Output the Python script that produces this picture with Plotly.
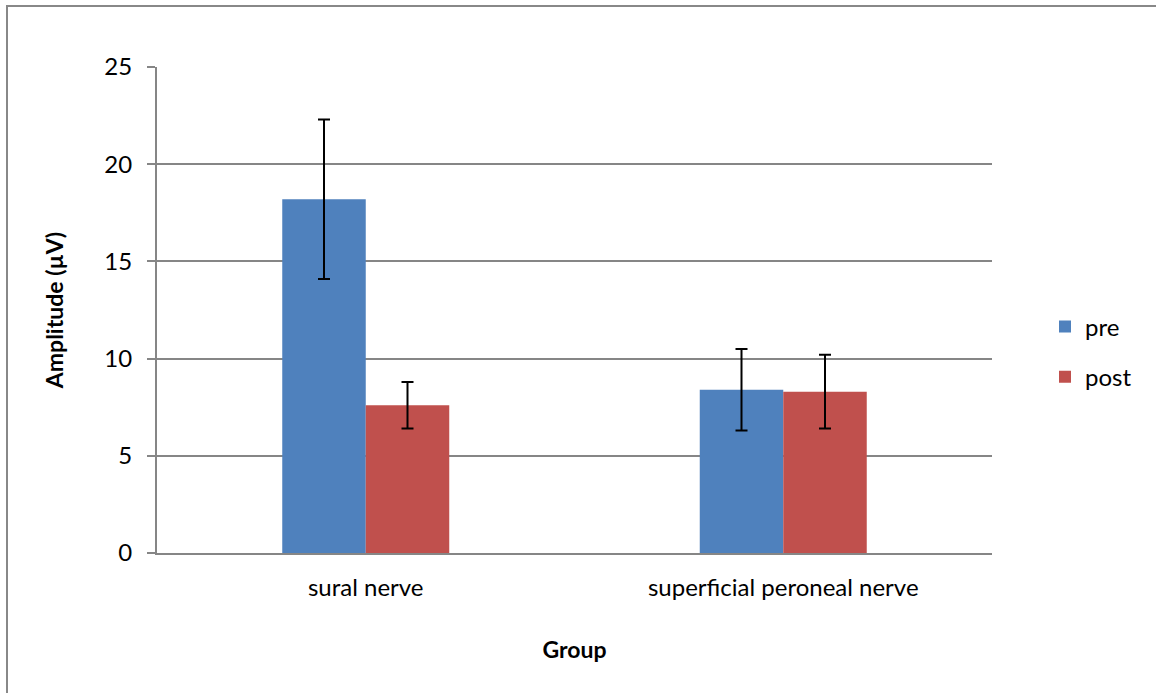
import plotly.graph_objects as go

categories = ["sural nerve", "superficial peroneal nerve"]
series_names = ["pre", "post"]
pre_values = [18.2, 8.4]
post_values = [7.6, 8.3]
pre_errors = [4.1, 2.1]
post_errors = [1.2, 1.9]
tick_values = [0, 5, 10, 15, 20, 25]

FONT = "Lato, 'Open Sans', sans-serif"
colors = ["#4F81BD", "#C0504D"]

L, R, T, B = 157, 164, 67, 140
W, H = 1156, 693
pw, ph = W - L - R, H - T - B

fig = go.Figure()
for name, vals, errs, col in zip(series_names, [pre_values, post_values], [pre_errors, post_errors], colors):
    fig.add_trace(go.Bar(
        x=categories, y=vals, name=name, legendgroup=name,
        marker=dict(color=col, line=dict(width=0)),
        error_y=dict(type="data", array=errs, visible=True, color="black", thickness=2, width=6),
    ))

fig.update_layout(
    width=W, height=H,
    margin=dict(l=L, r=R, t=T, b=B),
    plot_bgcolor="white", paper_bgcolor="white",
    barmode="group", bargap=0.6, bargroupgap=0,
    font=dict(family=FONT, size=24, color="black"),
    legend=dict(x=(1045 - L) / pw, y=(553 - 352) / ph, xanchor="left", yanchor="middle",
                font=dict(size=24), tracegroupgap=16, itemsizing="constant"),
    xaxis=dict(
        title=dict(text="<b>Group</b>", font=dict(size=23), standoff=42),
        showline=True, linecolor="#868686", linewidth=2,
        ticks="", showgrid=False, tickfont=dict(size=24), ticklabelstandoff=12,
    ),
    yaxis=dict(
        title=dict(text="<b>Amplitude (µV)</b>", font=dict(size=23), standoff=34),
        range=[0, 25], tickvals=tick_values, ticks="outside", ticklen=8,
        tickcolor="#868686", tickwidth=2, ticklabelstandoff=10,
        showline=True, linecolor="#868686", linewidth=2,
        showgrid=True, gridcolor="#868686", gridwidth=2,
        zeroline=False, tickfont=dict(size=24),
    ),
    shapes=[dict(
        type="rect", xref="paper", yref="paper",
        x0=(7 - L) / pw, x1=(W + 20 - L) / pw,
        y0=-(H + 20 - T - ph) / ph, y1=1 + (T - 6) / ph,
        line=dict(color="#888888", width=2), fillcolor="rgba(0,0,0,0)", layer="below",
    )],
)

fig.write_html("out.html", config={"displayModeBar": False},
               post_script="document.body.style.margin='0px';document.body.style.overflow='hidden';")
